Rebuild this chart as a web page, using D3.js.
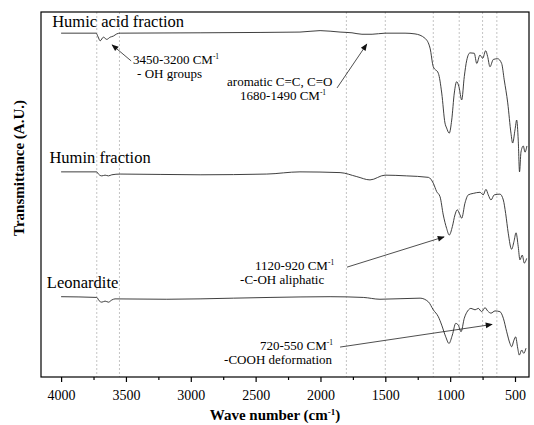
<!DOCTYPE html>
<html>
<head>
<meta charset="utf-8">
<script src="https://cdn.jsdelivr.net/npm/d3@7"></script>
<style>
  body { margin: 0; background: #fff; }
</style>
</head>
<body>
<div id="chart"></div>
<script>
(function() {
  'use strict';

  // wavenumber (cm-1) and transmittance (arbitrary units) for each sample
  var humicWave = [4000,3730,3715,3699,3674,3648,3622,3597,3571,3545,2928,2466,2158,2003,1849,1757,1680,1602,1502,1348,1271,1194,1155,1130,1091,1065,1040,1027,1007,988,968,950,932,911,891,872,847,814,795,770,749,726,711,693,667,634,603,583,556,531,518,500,487,475,465,454,436,423,408];
  var humicT = [94.2,94.2,93.2,92.1,93.1,92.5,93.1,93.4,94.0,94.2,94.3,94.4,94.5,94.9,94.5,94.3,93.9,93.9,94.2,94.2,94.0,92.8,90.1,85.0,83.2,77.8,69.6,68.2,66.8,70.4,77.8,80.9,79.5,75.9,82.3,86.8,88.8,88.7,85.9,88.2,87.3,89.4,87.8,85.0,87.0,87.2,85.9,81.4,75.1,66.8,64.1,67.7,70.4,64.9,56.2,61.6,63.3,61.6,63.3];

  var huminWave = [4000,3725,3712,3686,3661,3635,3609,3545,2928,2414,2158,1849,1720,1618,1502,1335,1168,1130,1104,1078,1053,1027,1007,983,963,945,924,911,886,860,822,770,745,724,706,685,660,616,590,572,552,526,508,492,475,462,444,428,410];
  var huminT = [56.2,56.2,55.6,55.1,55.3,55.1,55.4,55.6,55.4,55.6,56.2,56.0,54.9,54.0,55.3,55.1,54.7,53.1,50.8,49.4,44.4,40.7,38.9,41.2,44.4,45.8,44.4,43.5,47.6,49.9,50.3,50.6,49.9,51.4,49.9,48.5,49.9,50.1,48.5,44.8,39.4,35.0,37.1,39.5,35.7,32.1,33.4,31.2,32.5];

  var leoWave = [4000,3725,3707,3686,3661,3635,3609,3584,3185,2672,2389,1926,1670,1541,1232,1168,1130,1091,1065,1034,1009,983,957,937,916,891,865,839,808,783,757,731,711,685,654,616,590,564,539,526,508,495,479,467,448,433,415];
  var leoT = [22.0,21.8,20.9,20.5,20.8,20.5,21.1,21.4,21.3,21.6,21.8,22.0,21.8,21.3,21.6,20.6,18.4,16.5,14.2,11.0,9.2,11.5,14.7,14.2,12.4,16.1,18.1,18.8,18.4,18.8,17.9,19.0,18.1,17.5,18.1,17.9,16.1,12.4,9.2,8.3,10.1,11.0,7.9,6.0,7.4,6.5,7.9];

  var seriesNames = ["Humic acid fraction", "Humin fraction", "Leonardite"];
  // label anchors [wavenumber, transmittance]
  var seriesLabelAt = [[4069, 95.8], [4090, 58.7], [4110, 24.3]];

  // band marker positions (cm-1)
  var bandWave = [3725, 3550, 1800, 1500, 1130, 930, 750, 640];

  var xTicks = [4000, 3500, 3000, 2500, 2000, 1500, 1000, 500];
  var xMinorTicks = [3750, 3250, 2750, 2250, 1750, 1250, 750];

  // annotations: [text, wavenumber, transmittance, superscript?], arrow from -> to
  var annotations = [
    {lines: [["3450-3200 CM", 3445, 85.8, true], ["- OH groups", 3414, 82.0]],
     from: [3460, 86.6], to: [3607, 91.0]},
    {lines: [["aromatic C=C, C=O", 2720, 79.7], ["1680-1490 CM", 2620, 75.8, true]],
     from: [1872, 79.2], to: [1643, 91.2]},
    {lines: [["1120-920 CM", 2504, 29.3, true], ["-C-OH aliphatic", 2620, 25.4]],
     from: [1795, 30.1], to: [1047, 38.4]},
    {lines: [["720-550 CM", 2466, 7.3, true], ["-COOH deformation", 2743, 3.6]],
     from: [1849, 8.2], to: [677, 14.4]}
  ];

  var serif = "'Liberation Serif', serif";

  var width = 534, height = 425;
  var margin = {top: 12, right: 5, bottom: 48, left: 41};
  var plotW = width - margin.left - margin.right;
  var plotH = height - margin.top - margin.bottom;

  var x = d3.scaleLinear().domain([4155, 392]).range([0, plotW]);
  var y = d3.scaleLinear().domain([0, 100]).range([plotH, 0]);

  var svg = d3.select("#chart").append("svg")
    .attr("width", width)
    .attr("height", height)
    .style("font-family", serif);

  var defs = svg.append("defs");
  defs.append("marker")
    .attr("id", "arrow")
    .attr("viewBox", "0 0 10 10")
    .attr("refX", 9)
    .attr("refY", 5)
    .attr("markerWidth", 10)
    .attr("markerHeight", 7)
    .attr("markerUnits", "userSpaceOnUse")
    .attr("orient", "auto")
    .append("path")
    .attr("d", "M0,1 L10,5 L0,9 Z")
    .attr("fill", "#111");

  var g = svg.append("g")
    .attr("transform", "translate(" + margin.left + "," + margin.top + ")");

  // band markers
  g.selectAll(".band").data(bandWave).enter()
    .append("line")
    .attr("class", "band")
    .attr("x1", function(d) {return x(d);})
    .attr("x2", function(d) {return x(d);})
    .attr("y1", 0)
    .attr("y2", plotH)
    .attr("stroke", "#b5b5b5")
    .attr("stroke-width", 0.8)
    .attr("stroke-dasharray", "2,2");

  // spectra
  var series = [
    d3.zip(humicWave, humicT),
    d3.zip(huminWave, huminT),
    d3.zip(leoWave, leoT)
  ];
  var line = d3.line()
    .x(function(d) {return x(d[0]);})
    .y(function(d) {return y(d[1]);})
    .curve(d3.curveMonotoneX);

  g.selectAll(".spectrum").data(series).enter()
    .append("path")
    .attr("class", "spectrum")
    .attr("d", line)
    .attr("fill", "none")
    .attr("stroke", "#2a2a2a")
    .attr("stroke-width", 0.9);

  g.selectAll(".series-label").data(seriesNames).enter()
    .append("text")
    .attr("class", "series-label")
    .attr("x", function(d, i) {return x(seriesLabelAt[i][0]);})
    .attr("y", function(d, i) {return y(seriesLabelAt[i][1]);})
    .style("font-family", serif)
    .attr("font-size", 16.5)
    .text(function(d) {return d;});

  // annotations
  annotations.forEach(function(a) {
    a.lines.forEach(function(l) {
      var t = g.append("text")
        .attr("x", x(l[1]))
        .attr("y", y(l[2]))
        .style("font-family", serif)
        .attr("font-size", 13)
        .text(l[0]);
      if (l[3]) {
        t.append("tspan")
          .attr("dy", -5)
          .attr("font-size", 7.5)
          .text("-1");
      }
    });
    g.append("line")
      .attr("x1", x(a.from[0]))
      .attr("y1", y(a.from[1]))
      .attr("x2", x(a.to[0]))
      .attr("y2", y(a.to[1]))
      .attr("stroke", "#222")
      .attr("stroke-width", 0.8)
      .attr("marker-end", "url(#arrow)");
  });

  // frame
  g.append("rect")
    .attr("width", plotW)
    .attr("height", plotH)
    .attr("fill", "none")
    .attr("stroke", "#000")
    .attr("stroke-width", 1.2);

  // x axis
  var xAxis = g.append("g")
    .attr("transform", "translate(0," + plotH + ")")
    .call(d3.axisBottom(x).tickValues(xTicks).tickSize(5).tickSizeOuter(0).tickPadding(8)
      .tickFormat(d3.format("d")));
  xAxis.attr("font-family", null);
  xAxis.select(".domain").remove();
  xAxis.selectAll("line").attr("stroke", "#000").attr("stroke-width", 1.2);
  xAxis.selectAll("text")
    .attr("font-size", 14)
    .style("font-family", serif);

  g.append("g")
    .attr("transform", "translate(0," + plotH + ")")
    .call(d3.axisBottom(x).tickValues(xMinorTicks).tickSize(3).tickFormat(""))
    .call(function(s) {
      s.select(".domain").remove();
      s.selectAll("line").attr("stroke", "#000").attr("stroke-width", 1.2);
    });

  // axis titles
  var xt = svg.append("text")
    .attr("x", 275)
    .attr("y", 420)
    .attr("text-anchor", "middle")
    .style("font-family", serif)
    .attr("font-size", 15)
    .attr("font-weight", "bold")
    .text("Wave number (cm");
  xt.append("tspan").attr("dy", -5).attr("font-size", 9).text("-1");
  xt.append("tspan").attr("dy", 5).text(")");

  svg.append("text")
    .attr("transform", "translate(24,168) rotate(-90)")
    .attr("text-anchor", "middle")
    .style("font-family", serif)
    .attr("font-size", 15)
    .attr("font-weight", "bold")
    .text("Transmittance (A.U.)");
}());
</script>
</body>
</html>
